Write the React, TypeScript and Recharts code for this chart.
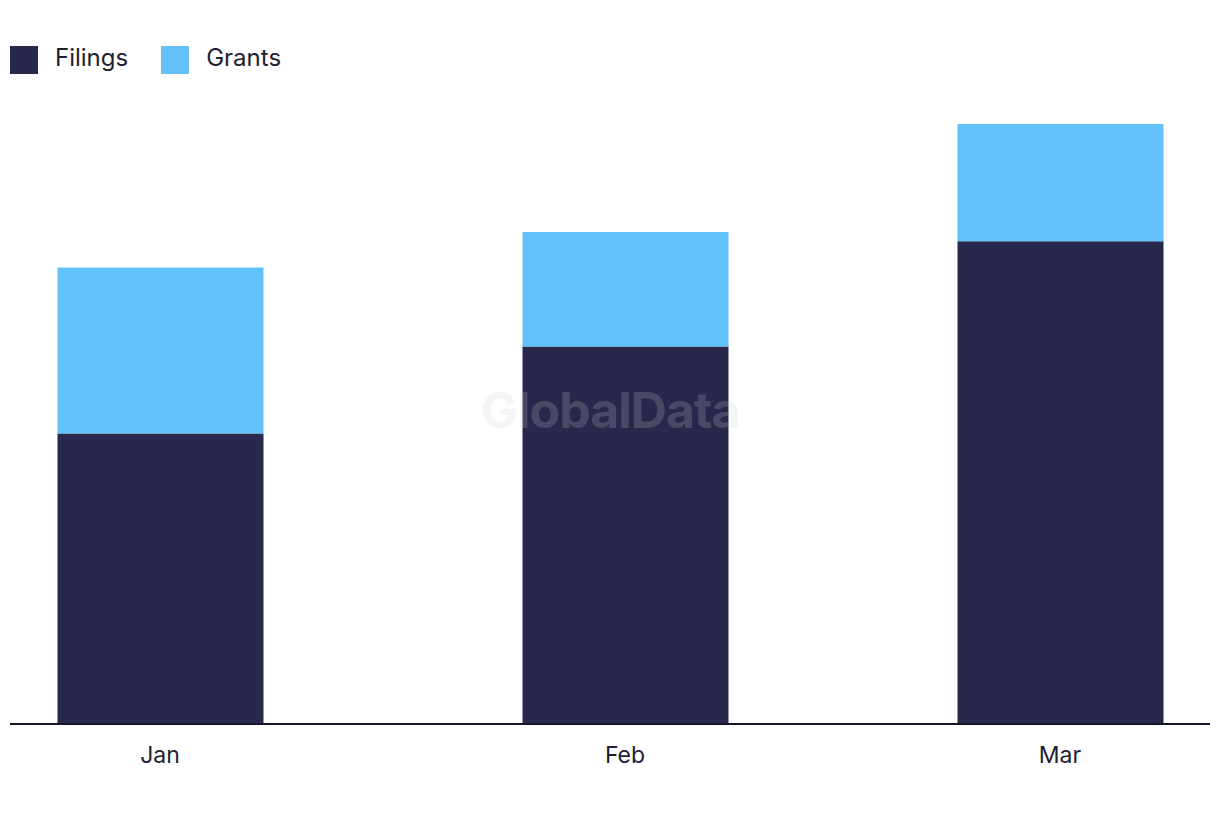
import { BarChart, Bar, XAxis, YAxis } from "recharts";

const months = ["Jan", "Feb", "Mar"];
const monthDates = [Date.UTC(2024, 0, 1), Date.UTC(2024, 1, 1), Date.UTC(2024, 2, 1)];
const filings = [50, 65, 83.1];
const grants = [28.6, 19.7, 20.2];

const xDomain = [Date.UTC(2023, 11, 22), Date.UTC(2024, 2, 11)];

const series = [
  { key: "filings", name: "Filings", color: "#28284c" },
  { key: "grants", name: "Grants", color: "#62c1f9" },
];

const data = monthDates.map((d, i) => ({
  date: d,
  month: months[i],
  filings: filings[i],
  grants: grants[i],
}));

const FONT = "Inter, 'Open Sans', sans-serif";

function MonthTick(props: any) {
  const { x, y, payload } = props;
  const idx = monthDates.indexOf(payload.value);
  return (
    <text x={x} y={y} dy={31} textAnchor="middle" fontSize={23} fill="#1d1d33" fontFamily={FONT}>
      {months[idx]}
    </text>
  );
}

export default function App() {
  return (
    <div style={{ position: "absolute", left: 0, top: 0, width: 1220, height: 822, background: "#fff", fontFamily: FONT }}>
      {/* legend */}
      <div style={{ position: "absolute", left: 10, top: 46, display: "flex", alignItems: "center" }}>
        {series.map((s) => (
          <div key={s.key} style={{ display: "flex", alignItems: "center", marginRight: 33 }}>
            <div style={{ width: 28, height: 28, background: s.color }} />
            <span style={{ marginLeft: 17, fontSize: 24, color: "#1d1d33", lineHeight: "28px", position: "relative", top: -2 }}>
              {s.name}
            </span>
          </div>
        ))}
      </div>

      <BarChart
        width={1220}
        height={822}
        data={data}
        margin={{ top: 73.4, right: 10, left: 10, bottom: 38 }}
      >
        <XAxis
          dataKey="date"
          type="number"
          scale="time"
          domain={xDomain}
          ticks={monthDates}
          allowDataOverflow
          tickLine={false}
          tick={<MonthTick />}
          axisLine={{ stroke: "#15152a", strokeWidth: 2 }}
          height={60}
        />
        <YAxis hide domain={[0, 112]} />
        {series.map((s) => (
          <Bar
            key={s.key}
            dataKey={s.key}
            name={s.name}
            stackId="a"
            fill={s.color}
            barSize={206}
            isAnimationActive={false}
          />
        ))}
      </BarChart>

      {/* watermark */}
      <div
        style={{
          position: "absolute",
          left: 0,
          width: 1220,
          top: 380,
          textAlign: "center",
          fontSize: 50,
          fontWeight: 700,
          color: "rgba(206,206,206,0.2)",
          pointerEvents: "none",
          letterSpacing: -1,
        }}
      >
        GlobalData
      </div>
    </div>
  );
}
